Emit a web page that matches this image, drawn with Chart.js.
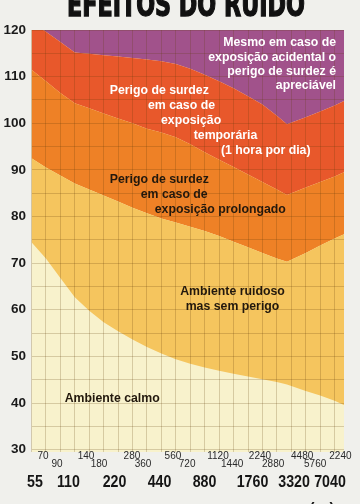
<!DOCTYPE html>
<html><head><meta charset="utf-8">
<script src="https://cdn.jsdelivr.net/npm/chart.js@4.4.1/dist/chart.umd.min.js"></script>
<style>html,body{margin:0;padding:0;background:#f0f0ec;overflow:hidden}canvas{display:block}</style>
</head><body>
<canvas id="c" width="360" height="504"></canvas>
<script>
// Band positions along the frequency axis (grid index, 3 cells per octave)
const bandPos = [0,1,2,3,4,5,6,7,8,9,10,11,12,13,14,15,16,17,17.7,19,20,21,21.65];
// Upper limit of "Ambiente calmo" (dB)
const limitCalm = [74.5,71,66.8,62.7,59.8,57.3,55.4,53.6,52,50.6,49.4,48.4,47.6,46.9,46.3,45.7,45.1,44.5,44,42.6,41.6,40.5,39.6];
// Upper limit of "Ambiente ruidoso mas sem perigo"
const limitNoisy = [92.5,90.5,88.8,87.1,85.8,84.5,83.2,81.9,80.7,79.6,78.7,77.8,76.9,75.8,74.6,73.4,72.2,71,70.3,72.2,73.8,75.3,76.2];
// Upper limit of "Perigo ... exposição prolongado"
const limitProlonged = [111.5,109,106.5,104.3,103.2,102.1,101,100,98.8,98,97,95.5,93.8,92.2,90.6,89,87.4,85.8,84.6,86.2,87.4,88.6,89.5];
// Upper limit of "Perigo ... exposição temporária"
const limitTemporary = [121.7,119.6,117.4,115.2,114.9,114.6,114.3,114,113.7,113.3,112.7,111.7,110.4,109,107.5,105.8,104,101.6,99.8,101.3,102.5,103.8,104.8];

// Tick labels
const yTickLabels = [30,40,50,60,70,80,90,100,110,120];
const edgeLabelsUpper = ['70','140','280','560','1120','2240','4480','2240'];
const edgeLabelsLower = ['90','180','360','720','1440','2880','5760'];
const centerLabels = ['55','110','220','440','880','1760','3320','7040'];
// layout: where each label sits (grid index)
const upperPos = [0.8,3.78,6.96,9.8,12.92,15.83,18.75,21.4];
const lowerPos = [1.77,4.68,7.73,10.78,13.9,16.74,19.65];
const centerPos = [0.24,2.56,5.75,8.87,11.99,15.31,18.19,20.68];

const C = {
  calm:'#f8f2cc', noisy:'#f5c55e', prolonged:'#ee8126', temporary:'#e8582b', accidental:'#a1528b'
};
const pts = arr => arr.map((v,i)=>({x:bandPos[i], y:v}));
const FONT = '"Liberation Sans", Arial, sans-serif';

const bgPlugin = {
  id:'bg',
  beforeDatasetsDraw(chart){
    const {ctx, chartArea:a} = chart;
    ctx.save(); ctx.fillStyle = C.calm;
    ctx.fillRect(a.left, a.top, a.right-a.left, a.bottom-a.top);
    ctx.restore();
  }
};

function condensed(ctx, text, x, y, sx){
  ctx.save(); ctx.translate(x, y); ctx.scale(sx, 1); ctx.fillText(text, 0, 0); ctx.restore();
}

const textPlugin = {
  id:'texts',
  afterDraw(chart){
    const ctx = chart.ctx;
    const xs = chart.scales.x;
    ctx.save();
    // Title (cut at top)
    ctx.font = 'bold 33px "Liberation Sans Narrow", "DejaVu Sans Condensed", "Liberation Sans", sans-serif';
    const w = ctx.measureText('EFEITOS DO RUIDO').width;
    ctx.translate(186, 15.7);
    ctx.scale(238/w, 1);
    ctx.fillStyle = '#111'; ctx.strokeStyle = '#111'; ctx.lineWidth = 1.3;
    ctx.textAlign = 'center'; ctx.textBaseline = 'alphabetic';
    ctx.fillText('EFEITOS DO RUIDO', 0, 0);
    ctx.strokeText('EFEITOS DO RUIDO', 0, 0);
    ctx.restore();

    ctx.save();
    ctx.textBaseline = 'middle';
    // x labels
    ctx.fillStyle = '#2a2a2a';
    ctx.font = '10px ' + FONT; ctx.textAlign = 'center';
    edgeLabelsUpper.forEach((t,i)=>ctx.fillText(t, xs.getPixelForValue(upperPos[i]), 456));
    edgeLabelsLower.forEach((t,i)=>ctx.fillText(t, xs.getPixelForValue(lowerPos[i]), 464));
    ctx.fillStyle = '#151515';
    ctx.font = 'bold 16.5px ' + FONT;
    centerLabels.forEach((t,i)=>condensed(ctx, t, xs.getPixelForValue(centerPos[i]), 482.5, 0.86));
    ctx.font = 'bold 15px ' + FONT;
    ctx.fillText('(…)', 322, 509);

    // Region labels
    ctx.font = 'bold 12.3px ' + FONT;
    ctx.fillStyle = '#ffffff';
    ctx.textAlign = 'right';
    [['Mesmo em caso de',42.7],['exposição acidental o',57.3],['perigo de surdez é',71.7],['apreciável',85.5]]
      .forEach(([t,y])=>ctx.fillText(t, 336, y));
    ctx.textAlign = 'left';
    [['Perigo de surdez',109.7,90.7],['em caso de',148,105.7],['exposição',161,121],['temporária',193.7,135.5],['(1 hora por dia)',221,151]]
      .forEach(([t,x,y])=>ctx.fillText(t, x, y));
    ctx.fillStyle = '#22180d';
    [['Perigo de surdez',109.7,180],['em caso de',140.7,194.5],['exposição prolongado',154.7,209.3]]
      .forEach(([t,x,y])=>ctx.fillText(t, x, y));
    ctx.textAlign = 'center';
    ctx.fillText('Ambiente ruidoso', 232.5, 291.7);
    ctx.fillText('mas sem perigo', 232.5, 306.7);
    ctx.textAlign = 'left';
    ctx.fillText('Ambiente calmo', 64.7, 398.3);
    ctx.restore();
  }
};

const ds = (label, arr, color, fill) => ({
  label, data: pts(arr), backgroundColor: color, borderWidth: 0, pointRadius: 0,
  tension: 0, fill
});

const gridOpts = {color:'rgba(95,60,10,0.22)', lineWidth:1, drawTicks:false, z:1};

new Chart(document.getElementById('c'), {
  type:'line',
  data:{ datasets:[
    ds('Ambiente ruidoso mas sem perigo', limitCalm, C.noisy, '+1'),
    ds('Perigo de surdez em caso de exposição prolongado', limitNoisy, C.prolonged, '+1'),
    ds('Perigo de surdez em caso de exposição temporária', limitProlonged, C.temporary, '+1'),
    ds('Mesmo em caso de exposição acidental', limitTemporary, C.accidental, 'end')
  ]},
  options:{
    responsive:false, animation:false, devicePixelRatio:1,
    layout:{padding:{top:30,right:16,bottom:0,left:0}},
    plugins:{legend:{display:false}, tooltip:{enabled:false}, title:{display:false}},
    scales:{
      x:{type:'linear', min:0, max:21.65,
        ticks:{display:false, stepSize:1, includeBounds:false},
        grid:gridOpts,
        border:{display:false},
        afterFit(s){ s.height = 52; }
      },
      y:{min:29.5, max:120,
        ticks:{stepSize:5, includeBounds:false, padding:5.5, z:1,
          callback:v => yTickLabels.includes(v) ? String(v) : '',
          font:{family:'"Liberation Sans", Arial, sans-serif', size:13.5, weight:'bold'}, color:'#1a1a1a'},
        grid:gridOpts,
        border:{display:false},
        afterFit(s){ s.width = 31.5; }
      }
    }
  },
  plugins:[bgPlugin, textPlugin]
});
</script>
</body></html>
